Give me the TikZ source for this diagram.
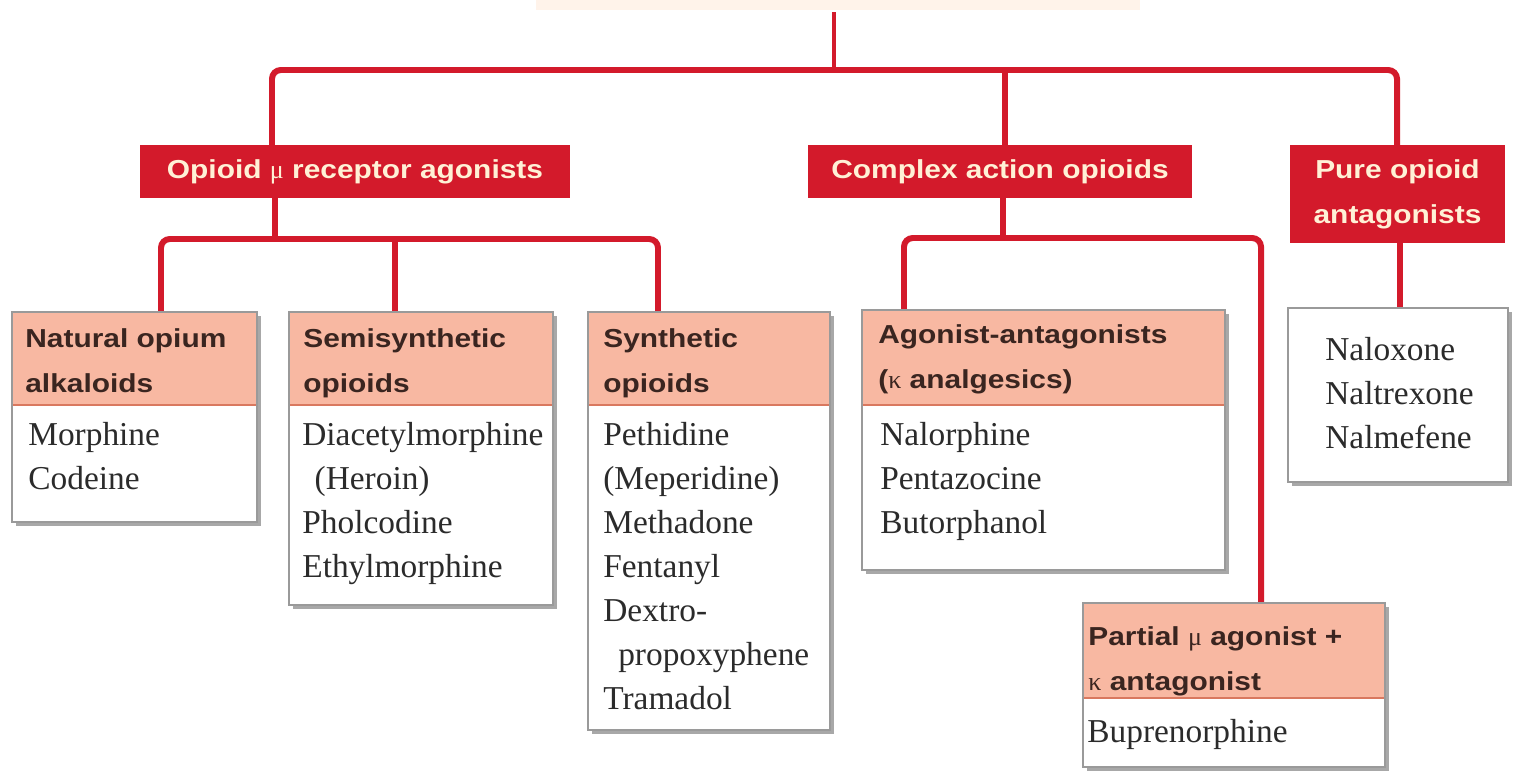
\documentclass[tikz,border=0pt]{standalone}
\usepackage{fontspec}
\setmainfont{Liberation Serif}
\newfontfamily\hdrfont{Liberation Sans}[FakeStretch=1.15]
\usetikzlibrary{fit,shadows}
\definecolor{rd}{HTML}{D31A2B}
\definecolor{salmon}{HTML}{F8B8A2}
\definecolor{sepcol}{HTML}{D9785F}
\definecolor{cream}{HTML}{FFF1D6}
\definecolor{boxgray}{HTML}{9A9A9A}
\definecolor{shadowgray}{HTML}{A8A8A8}
\definecolor{txt}{HTML}{2B2B2B}
\definecolor{hdrtxt}{HTML}{3A2520}
\definecolor{topband}{HTML}{FFF3EA}
\begin{document}
\begin{tikzpicture}[x=0.02cm,y=-0.02cm,
  conn/.style={draw=rd, line width=3.4pt, rounded corners=5pt},
  stem/.style={draw=rd, line width=2.4pt},
  redbox/.style={fill=rd, inner sep=0pt, outer sep=0pt},
  redtext/.style={text=cream, font=\hdrfont\fontsize{14.8}{25.5}\selectfont\bfseries, align=center, inner sep=0pt},
  listbox/.style={fill=white, inner sep=0pt, outer sep=0pt, drop shadow={shadow xshift=2.5pt, shadow yshift=-2.5pt, fill=shadowgray, opacity=1}},
  hdrbox/.style={fill=salmon, inner sep=0pt, outer sep=0pt},
  sepline/.style={draw=sepcol, line width=1.4pt},
  boxline/.style={draw=boxgray, line width=0.8pt},
  hdrtext/.style={text=hdrtxt, font=\hdrfont\fontsize{14.8}{26}\selectfont\bfseries, align=left, inner sep=0pt, anchor=north west},
  listtext/.style={text=txt, font=\fontsize{19}{25}\selectfont, align=left, inner sep=0pt, anchor=north west},
]
\useasboundingbox (0,0) rectangle (1525,771);
\fill[white] (0,0) rectangle (1525,771);
\fill[topband] (536,0) rectangle (1140,10);

% red category boxes
\node[redbox, fit={(140,145)(570,198)}] (opi) {};
\node[redbox, fit={(808,145)(1192,198)}] (cpx) {};
\node[redbox, fit={(1290,145)(1505,243)}] (pure) {};

% list boxes (outer)
\node[listbox, fit={(12,312)(257,522)}] (nat) {};
\node[listbox, fit={(289,312)(553,605)}] (semi) {};
\node[listbox, fit={(588,312)(830,730)}] (syn) {};
\node[listbox, fit={(862,310)(1225,570)}] (ago) {};
\node[listbox, fit={(1083,603)(1385,767)}] (par) {};
\node[listbox, fit={(1288,308)(1508,482)}] (pl) {};

% connectors
\coordinate (top) at (834,12);
\coordinate (T1) at (834,70);
\coordinate (L1) at (272,70);
\coordinate (R1) at (1397,70);
\coordinate (M1) at (1005,70);
\draw[stem] (top) -- (T1);
\draw[conn] (opi.north -| L1) -- (L1) -- (R1) -- (pure.north -| R1);
\draw[conn] (M1) -- (cpx.north -| M1);

\coordinate (L2a) at (161,239);
\coordinate (L2b) at (658,239);
\coordinate (L2m) at (395,239);
\coordinate (L2s) at (275,239);
\draw[conn] (nat.north -| L2a) -- (L2a) -- (L2b) -- (syn.north -| L2b);
\draw[conn] (opi.south -| L2s) -- (L2s);
\draw[conn] (L2m) -- (semi.north -| L2m);

\coordinate (C2a) at (904,238);
\coordinate (C2b) at (1261,238);
\coordinate (C2s) at (1003,238);
\draw[conn] (ago.north -| C2a) -- (C2a) -- (C2b) -- (par.north -| C2b);
\draw[conn] (cpx.south -| C2s) -- (C2s);

\coordinate (P) at (1400,260);
\draw[conn] (pure.south -| P) -- (pl.north -| P);

% headers of list boxes
\node[hdrbox, fit={(12,312)(257,405)}] (nath) {};
\node[hdrbox, fit={(289,312)(553,405)}] (semih) {};
\node[hdrbox, fit={(588,312)(830,405)}] (synh) {};
\node[hdrbox, fit={(862,310)(1225,405)}] (agoh) {};
\node[hdrbox, fit={(1083,603)(1385,698)}] (parh) {};
\foreach \h in {nath,semih,synh,agoh,parh}{
  \draw[sepline] (\h.south west) -- (\h.south east);
}
\foreach \b in {nat,semi,syn,ago,par,pl}{
  \draw[boxline] (\b.north west) rectangle (\b.south east);
}

% texts
\node[redtext] (opit) at (opi.center) {Opioid {\rmfamily\mdseries μ} receptor agonists};
\node[redtext] (cpxt) at (cpx.center) {Complex action opioids};
\node[redtext] (puret) at (pure.center) {Pure opioid\\antagonists};

\node[hdrtext] (natt) at (25,328) {Natural opium\\alkaloids};
\node[hdrtext] (semit) at (303,328) {Semisynthetic\\opioids};
\node[hdrtext] (synt) at (603,328) {Synthetic\\opioids};
\node[hdrtext] (agot) at (878,324) {Agonist-antagonists\\({\rmfamily\mdseries κ} analgesics)};
\node[hdrtext] (part) at (1088,626) {Partial {\rmfamily\mdseries μ} agonist +\\{\rmfamily\mdseries κ} antagonist};

\node[listtext] (natl) at (28,422) {Morphine\\Codeine};
\node[listtext] (semil) at (302,422) {Diacetylmorphine\\\hspace*{7pt}(Heroin)\\Pholcodine\\Ethylmorphine};
\node[listtext] (synl) at (603,422) {Pethidine\\(Meperidine)\\Methadone\\Fentanyl\\Dextro-\\\hspace*{8.5pt}propoxyphene\\Tramadol};
\node[listtext] (agol) at (880,422) {Nalorphine\\Pentazocine\\Butorphanol};
\node[listtext] (parl) at (1087,719) {Buprenorphine};
\node[listtext] (pll) at (1325,337) {Naloxone\\Naltrexone\\Nalmefene};
\end{tikzpicture}
\end{document}
